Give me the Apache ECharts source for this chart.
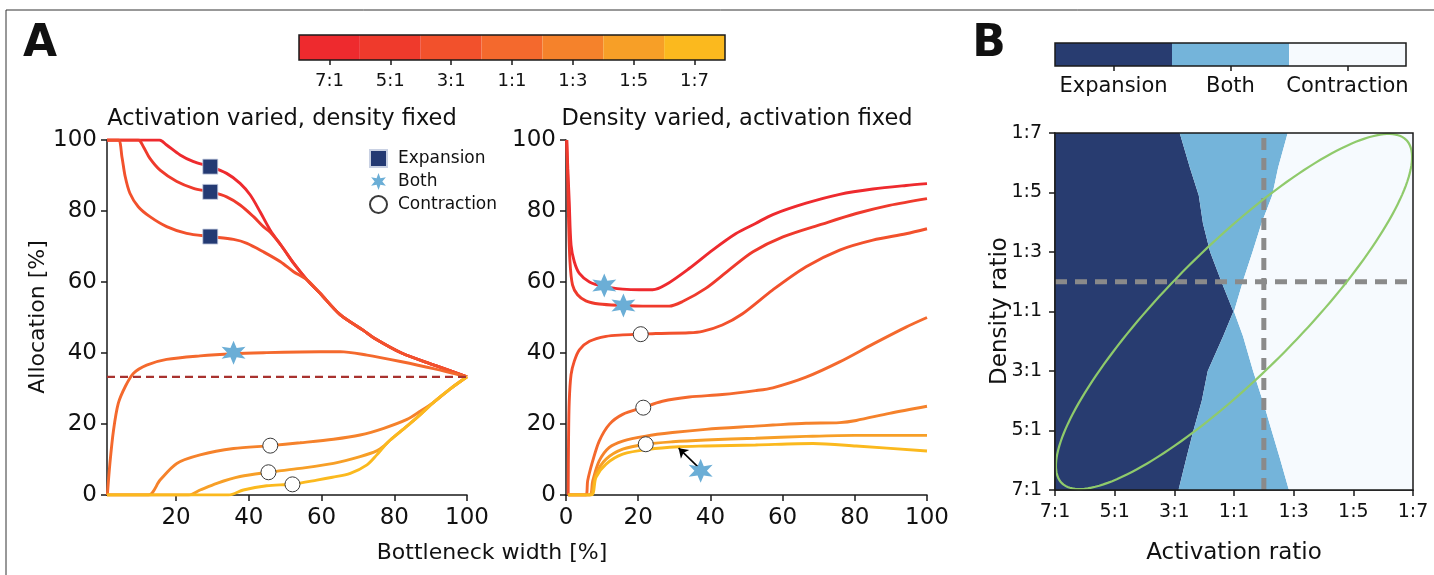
<!DOCTYPE html>
<html>
<head>
<meta charset="utf-8">
<script src="https://cdn.jsdelivr.net/npm/echarts@6/dist/echarts.min.js"></script>
<style>
html,body{margin:0;padding:0;background:#fff;}
#chart{width:1434px;height:575px;}
</style>
</head>
<body>
<div id="chart"></div>
<script>
// ---------- data ----------
const ratioLabels = ['7:1','5:1','3:1','1:1','1:3','1:5','1:7'];
const ratioColors = ['#ee2a2e','#ef3a2c','#f2512c','#f4692d','#f5822b','#f79f27','#fbb91e'];
const xTicksLeft = [20,40,60,80,100];
const classLabels = ['Expansion','Both','Contraction'];
const classColors = ['#283c70','#74b4da','#f6fafe'];

// Panel A left: activation varied, density fixed
const act71 = [[1,100],[15.4,100],[17.4,98.6],[21.1,95.8],[24.8,93.9],[29.4,92.5],[33.9,90.6],[37.6,87.8],[40.4,84.5],[43.1,79.8],[45.9,74.6],[49.1,70.0],[52.3,65.3],[56.0,60.6],[59.6,56.8],[65.1,50.8],[71.6,46.3],[74.3,44.3],[82,40.0],[91,36.6],[100,33.3]];
const act51 = [[1,100],[9.6,100],[11.0,98.1],[12.8,94.8],[15.6,91.5],[20.2,88.3],[24.8,86.4],[29.4,85.4],[33.9,84.0],[37.6,81.7],[41.3,78.4],[44.0,75.6],[45.9,74.0],[49.1,70.0],[52.3,65.3],[56.0,60.6],[59.6,56.8],[65.1,50.8],[71.6,46.3],[74.3,44.3],[82,40.0],[91,36.6],[100,33.3]];
const act31 = [[1,100],[4.1,100],[5.1,95.3],[6.0,89.7],[7.3,85.0],[9.6,81.2],[12.8,78.4],[17.4,75.6],[22.9,73.7],[29.4,72.8],[35.8,72.0],[39.5,70.9],[44.0,68.5],[48.7,65.7],[52.3,62.9],[56.0,60.6],[59.6,56.8],[65.1,50.8],[71.6,46.3],[74.3,44.3],[82,40.0],[91,36.6],[100,33.3]];
const act11 = [[1.1,0],[1.8,8.9],[2.8,18.3],[4.1,25.8],[6.0,30.5],[8.3,34.3],[11.9,36.6],[17.4,38.2],[26.6,39.2],[35.8,39.8],[44.9,40.1],[54.1,40.3],[65.1,40.4],[72.5,39.4],[81.7,37.6],[90.8,35.6],[100,33.3]];
const act13 = [[1,0],[12.4,0],[15.6,4.2],[20.2,8.9],[26.6,11.3],[35.8,13.1],[45.9,13.9],[54.1,14.7],[63.3,15.7],[70.6,16.9],[77.1,18.8],[83.5,21.3],[87,23.5],[90.8,26.1],[95.4,29.9],[100,33.3]];
const act15 = [[1,0],[23.4,0],[26.6,1.4],[31.2,3.3],[37.6,5.2],[45.4,6.4],[54.1,7.5],[63.3,8.9],[70.6,10.8],[75.3,12.5],[77.5,14.1],[78.9,15.5],[83.5,19.4],[87,22.5],[90.8,26.1],[95.4,29.9],[100,33.3]];
const act17 = [[1,0],[34.4,0],[38.5,1.4],[44.9,2.6],[52.0,3.1],[58.7,4.2],[63.0,5.0],[67.9,6.1],[72.5,8.5],[75.2,11.3],[77.5,14.1],[78.9,15.5],[83.5,19.4],[87,22.5],[90.8,26.1],[95.4,29.9],[100,33.3]];
const actLines = [act71, act51, act31, act11, act13, act15, act17];
const equalShare = [[1,33.3],[100,33.3]];
const actExpansion = [[29.4,92.5],[29.4,85.4],[29.4,72.8]];
const actBoth = [[35.8,40.1]];
const actContraction = [[45.9,13.9],[45.4,6.4],[52.0,3.0]];

// Panel A right: density varied, activation fixed
const den71 = [[0.2,100],[0.5,92],[0.9,82.5],[1.4,70.4],[2.3,65.7],[3.7,62.4],[6.5,60.0],[10.6,58.7],[15.7,58.0],[20.3,57.8],[24.0,57.8],[27.6,59.2],[34.1,63.8],[40.6,69.0],[47.0,73.6],[52.5,76.5],[57.3,79.0],[66.5,82.2],[75.8,84.7],[85.0,86.2],[94.2,87.2],[100,87.7]];
const den51 = [[0.2,100],[0.5,88],[0.7,77.9],[1.1,65.7],[1.8,59.2],[3.2,56.4],[5.5,54.7],[9.2,53.8],[15.7,53.4],[21.2,53.2],[28.6,53.2],[32.3,54.5],[38.7,58.2],[45.2,63.4],[51.8,68.5],[60.1,72.7],[71.2,76.4],[80.4,79.3],[89.6,81.6],[100,83.5]];
const den31 = [[0.6,0],[0.7,15],[0.9,26.4],[1.4,33.9],[2.3,37.7],[3.7,40.9],[6.5,43.3],[11.1,44.7],[15.7,45.1],[20.7,45.3],[24.9,45.5],[34.1,45.7],[37.8,46.1],[43.3,47.9],[48.8,51.0],[57.3,57.8],[66.5,64.3],[75.8,69.0],[85.0,71.8],[94.2,73.6],[100,75.0]];
const den11 = [[0.6,0],[5.5,0],[6.0,4.0],[7.4,9.6],[9.2,15.2],[12.0,19.9],[15.7,22.7],[21.2,24.6],[26.7,26.4],[34.1,27.6],[43.3,28.3],[52.5,29.4],[57.3,30.2],[66.5,33.2],[75.8,37.5],[85.0,42.5],[94.2,47.3],[100,50.0]];
const den13 = [[0.6,0],[6.5,0],[7.4,4.0],[9.2,9.6],[12.0,13.4],[15.7,15.2],[22.1,16.6],[29.5,17.6],[38.7,18.5],[52.5,19.4],[57.3,19.7],[66.5,20.2],[75.8,20.4],[80.4,21.0],[89.6,23.0],[100,25.0]];
const den15 = [[0.6,0],[6.5,0],[8.3,5.9],[11.1,10.1],[15.7,12.9],[22.1,14.3],[29.5,15.0],[38.7,15.5],[52.5,16.0],[66.5,16.5],[80,16.8],[100,16.8]];
const den17 = [[0.6,0],[7.0,0],[8.3,5.0],[11.1,8.7],[15.7,11.5],[23.0,12.9],[31.3,13.6],[38.7,13.8],[52.5,14.1],[68.4,14.5],[80.4,13.8],[100,12.4]];
const denLines = [den71, den51, den31, den11, den13, den15, den17];
const denBoth = [[10.6,59.0],[15.9,53.4],[37.3,6.8]];
const denContraction = [[20.7,45.3],[21.4,24.6],[22.1,14.3]];
const arrowLine = [[36.7,7.8],[31.2,13.2]];

// Panel B: region boundaries (activation index, density index), 0 = 7:1 ... 6 = 1:7
const bothLeft = [[2.07,0],[2.20,0.53],[2.32,1.0],[2.46,1.5],[2.56,2.0],[2.82,2.59],[2.99,3.0],[2.79,3.5],[2.60,4.0],[2.48,4.48],[2.41,4.95],[2.26,5.42],[2.09,6]];
const bothRight = [[3.92,0],[3.77,0.53],[3.63,1.0],[3.51,1.41],[3.32,2.0],[3.15,2.59],[3.0,3.0],[3.16,3.54],[3.31,4.0],[3.46,4.48],[3.64,4.95],[3.74,5.42],[3.90,6]];
const crossV = [[3.5,0],[3.5,6]];
const crossH = [[0,3.5],[6,3.5]];
const ellipseParams = [3, 3, 4.08, 1.08, 45]; // centre u, centre v, semi-major, semi-minor, angle (deg)

// ---------- build ----------
const FONT = 'DejaVu Sans';
const starPath = 'path://M100,0 L122.5,61 L186.6,50 L145,100 L186.6,150 L122.5,139 L100,200 L77.5,139 L13.4,150 L55,100 L13.4,50 L77.5,61 Z';
const axCol = '#1a1a1a';
const LW = 2.9;

function valAxis(grid, extra) {
  return Object.assign({
    type: 'value', gridIndex: grid, min: 0, max: 100, interval: 20,
    splitLine: {show: false},
    axisLine: {show: true, onZero: false, lineStyle: {color: axCol, width: 1.5}},
    axisTick: {show: true, length: 6, lineStyle: {color: axCol, width: 1.5}},
    axisLabel: {color: '#111', fontSize: 23, fontFamily: FONT}
  }, extra || {});
}

const xAxes = [
  valAxis(0, {min: 1, max: 100, interval: null,
    axisTick: {show: true, length: 6, customValues: xTicksLeft, lineStyle: {color: axCol, width: 1.5}},
    axisLabel: {color: '#111', fontSize: 23, fontFamily: FONT, margin: 12, customValues: xTicksLeft}}),
  valAxis(1, {axisLabel: {color: '#111', fontSize: 23, fontFamily: FONT, margin: 12}}),
  {type: 'value', gridIndex: 2, min: 0, max: 6, interval: 1, splitLine: {show: false},
    axisLine: {show: true, onZero: false, lineStyle: {color: axCol, width: 1.5}},
    axisTick: {show: true, length: 6, lineStyle: {color: axCol, width: 1.5}},
    axisLabel: {color: '#111', fontSize: 19, fontFamily: FONT, margin: 13, formatter: v => ratioLabels[v]}},
  {type: 'category', gridIndex: 3, data: ratioLabels, axisLine: {show: false},
    axisTick: {show: true, alignWithLabel: true, length: 5, lineStyle: {color: axCol, width: 1.5}},
    axisLabel: {color: '#111', fontSize: 18, fontFamily: FONT, margin: 12, interval: 0}},
  {type: 'category', gridIndex: 4, data: classLabels, axisLine: {show: false},
    axisTick: {show: true, alignWithLabel: true, length: 5, lineStyle: {color: axCol, width: 1.5}},
    axisLabel: {color: '#111', fontSize: 21, fontFamily: FONT, margin: 10, interval: 0, hideOverlap: false}}
];
const yAxes = [
  valAxis(0, {axisLabel: {color: '#111', fontSize: 23, fontFamily: FONT, margin: 10}}),
  valAxis(1, {axisLabel: {color: '#111', fontSize: 23, fontFamily: FONT, margin: 10}}),
  {type: 'value', gridIndex: 2, min: 0, max: 6, interval: 1, splitLine: {show: false},
    axisLine: {show: true, onZero: false, lineStyle: {color: axCol, width: 1.5}},
    axisTick: {show: true, length: 6, lineStyle: {color: axCol, width: 1.5}},
    axisLabel: {color: '#111', fontSize: 19, fontFamily: FONT, margin: 13, formatter: v => ratioLabels[v]}},
  {type: 'value', gridIndex: 3, min: 0, max: 1, show: false},
  {type: 'value', gridIndex: 4, min: 0, max: 1, show: false}
];

const series = [];
actLines.forEach((d, i) => series.push({
  type: 'line', xAxisIndex: 0, yAxisIndex: 0, data: d, showSymbol: false, smooth: 0.3,
  lineStyle: {color: ratioColors[i], width: LW}, z: 3, silent: true
}));
series.push({type: 'line', xAxisIndex: 0, yAxisIndex: 0, data: equalShare, showSymbol: false,
  lineStyle: {color: '#a8322f', width: 2.2, type: [8, 5]}, z: 4, silent: true});
denLines.forEach((d, i) => series.push({
  type: 'line', xAxisIndex: 1, yAxisIndex: 1, data: d, showSymbol: false, smooth: 0.3,
  lineStyle: {color: ratioColors[i], width: LW}, z: 3, silent: true
}));
series.push({type: 'line', xAxisIndex: 1, yAxisIndex: 1, data: [], silent: true,
  markLine: {silent: true, symbol: ['none', 'arrow'], symbolSize: 9, label: {show: false},
    lineStyle: {color: '#000', width: 1.6, type: 'solid'},
    data: [[{coord: arrowLine[0]}, {coord: arrowLine[1]}]]}});

const expStyle = {color: '#243a73', borderColor: '#c9d1e3', borderWidth: 0.8, opacity: 1};
const bothStyle = {color: '#6baed6', opacity: 1};
const conStyle = {color: '#ffffff', borderColor: '#3a3a3a', borderWidth: 1, opacity: 1};
series.push({name: 'Expansion', type: 'scatter', xAxisIndex: 0, yAxisIndex: 0, data: actExpansion, symbol: 'rect', symbolSize: 15, itemStyle: expStyle, z: 6});
series.push({name: 'Both', type: 'scatter', xAxisIndex: 0, yAxisIndex: 0, data: actBoth, symbol: starPath, symbolSize: 24, itemStyle: bothStyle, z: 6});
series.push({name: 'Contraction', type: 'scatter', xAxisIndex: 0, yAxisIndex: 0, data: actContraction, symbol: 'circle', symbolSize: 15, itemStyle: conStyle, z: 6});
series.push({name: 'Both', type: 'scatter', xAxisIndex: 1, yAxisIndex: 1, data: denBoth, symbol: starPath, symbolSize: 24, itemStyle: bothStyle, z: 6});
series.push({name: 'Contraction', type: 'scatter', xAxisIndex: 1, yAxisIndex: 1, data: denContraction, symbol: 'circle', symbolSize: 15, itemStyle: conStyle, z: 6});

// Panel B regions
function regionSeries(points, color) {
  return {type: 'custom', coordinateSystem: 'cartesian2d', xAxisIndex: 2, yAxisIndex: 2, data: [[0, 0]], silent: true, z: 1,
    renderItem: (p, api) => ({type: 'polygon', shape: {points: points.map(pt => api.coord(pt))}, style: {fill: color}})};
}
const expRegion = [[0, 0]].concat(bothLeft, [[0, 6]]);
const bothRegion = bothLeft.concat(bothRight.slice().reverse());
const conRegion = bothRight.concat([[6, 6], [6, 0]]);
series.push(regionSeries(expRegion, classColors[0]));
series.push(regionSeries(bothRegion, classColors[1]));
series.push(regionSeries(conRegion, classColors[2]));
[crossV, crossH].forEach(d => series.push({type: 'line', xAxisIndex: 2, yAxisIndex: 2, data: d, showSymbol: false, silent: true,
  lineStyle: {color: '#8a8a8a', width: 5, type: [12, 8]}, z: 3}));
series.push({type: 'custom', coordinateSystem: 'cartesian2d', xAxisIndex: 2, yAxisIndex: 2, data: [[ellipseParams[0], ellipseParams[1]]], silent: true, z: 4,
  renderItem: (p, api) => {
    const [cx, cy, a, b, deg] = ellipseParams;
    const th = deg * Math.PI / 180;
    const pts = [];
    for (let i = 0; i <= 180; i++) {
      const t = 2 * Math.PI * i / 180;
      pts.push(api.coord([cx + a * Math.cos(t) * Math.cos(th) - b * Math.sin(t) * Math.sin(th),
                          cy + a * Math.cos(t) * Math.sin(th) + b * Math.sin(t) * Math.cos(th)]));
    }
    return {type: 'polygon', shape: {points: pts}, style: {fill: 'none', stroke: '#8fca6b', lineWidth: 2.2}};
  }});

// colourbars
series.push({type: 'bar', xAxisIndex: 3, yAxisIndex: 3, barCategoryGap: '0%', silent: true,
  data: ratioColors.map(c => ({value: 1, itemStyle: {color: c}}))});
series.push({type: 'bar', xAxisIndex: 4, yAxisIndex: 4, barCategoryGap: '0%', silent: true,
  data: classColors.map(c => ({value: 1, itemStyle: {color: c}}))});

function txt(text, x, y, size, opts) {
  return Object.assign({type: 'text', x: x, y: y, silent: true, z: 20,
    style: Object.assign({text: text, fill: '#111', font: size + 'px "' + FONT + '"',
      align: 'center', verticalAlign: 'middle', textAlign: 'center', textVerticalAlign: 'middle'}, (opts && opts.style) || {})},
    opts && opts.el ? opts.el : {});
}

const option = {
  animation: false,
  backgroundColor: '#ffffff',
  textStyle: {fontFamily: FONT},
  grid: [
    {left: 107, top: 140, width: 360, height: 355},
    {left: 566, top: 140, width: 361, height: 355},
    {left: 1055, top: 133, width: 358, height: 357, show: true, borderColor: axCol, borderWidth: 1.5, backgroundColor: 'transparent', z: 10},
    {left: 299, top: 35, width: 426, height: 25, show: true, borderColor: axCol, borderWidth: 1.5, backgroundColor: 'transparent', z: 10},
    {left: 1055, top: 43, width: 351, height: 23, show: true, borderColor: axCol, borderWidth: 1.5, backgroundColor: 'transparent', z: 10}
  ],
  xAxis: xAxes,
  yAxis: yAxes,
  legend: {
    data: ['Expansion', 'Both', 'Contraction'], orient: 'vertical', left: 364, top: 144,
    itemWidth: 17, itemHeight: 17, itemGap: 5,
    textStyle: {fontSize: 17, fontFamily: FONT, color: '#111', padding: [0, 0, 0, 6]},
    selectedMode: false
  },
  series: series,
  graphic: [
    {type: 'rect', x: 6, y: 10, shape: {width: 1500, height: 700}, style: {fill: 'none', stroke: '#333', lineWidth: 1}, silent: true, z: 0},
    txt('A', 40, 45, 44, {style: {font: 'bold 44px "' + FONT + '"'}}),
    txt('B', 989, 45, 44, {style: {font: 'bold 44px "' + FONT + '"'}}),
    txt('Activation varied, density fixed', 282, 119, 22.5),
    txt('Density varied, activation fixed', 737, 119, 22.5),
    txt('Allocation [%]', 38, 317, 22, {el: {rotation: Math.PI / 2}}),
    txt('Bottleneck width [%]', 492, 553, 22),
    txt('Activation ratio', 1234, 553, 23),
    txt('Density ratio', 1000, 311, 23, {el: {rotation: Math.PI / 2}})
  ]
};

const chart = echarts.init(document.getElementById('chart'), null, {renderer: 'canvas'});
chart.setOption(option);
</script>
</body>
</html>
